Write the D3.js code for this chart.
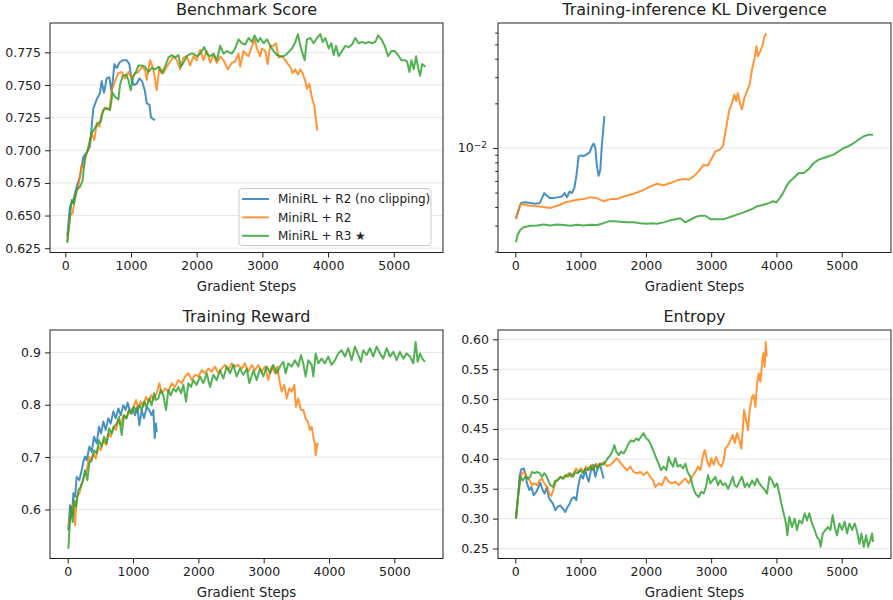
<!DOCTYPE html>
<html>
<head>
<meta charset="utf-8">
<script src="https://cdn.jsdelivr.net/npm/d3@7"></script>
<style>
  body { margin: 0; background: #fff; }
  text { font-family: "DejaVu Sans", sans-serif; fill: #222; }
</style>
</head>
<body>
<svg id="chart" width="893" height="600"></svg>
<script>
// ---- data ----
const seriesNames = ["MiniRL + R2 (no clipping)", "MiniRL + R2", "MiniRL + R3 \u2605"];
const seriesColors = ["#1f77b4", "#ff7f0e", "#2ca02c"];
const panelTitles = ["Benchmark Score", "Training-inference KL Divergence", "Training Reward", "Entropy"];
const xLabel = "Gradient Steps";
const stepTicks = [0, 1000, 2000, 3000, 4000, 5000];
const benchTicks = [0.625, 0.650, 0.675, 0.700, 0.725, 0.750, 0.775];
const klMajorTicks = [1e-2];
const klMinorTicks = [2e-3, 3e-3, 4e-3, 5e-3, 6e-3, 7e-3, 8e-3, 9e-3, 2e-2, 3e-2, 4e-2, 5e-2, 6e-2];
const rewardTicks = [0.6, 0.7, 0.8, 0.9];
const entropyTicks = [0.25, 0.30, 0.35, 0.40, 0.45, 0.50, 0.55, 0.60];

const benchNoClip = [[30,0.634],[71,0.657],[122,0.662],[173,0.672],[224,0.680],[274,0.695],[325,0.698],[376,0.703],[401,0.718],[427,0.732],[478,0.739],[528,0.744],[554,0.753],[589,0.744],[630,0.755],[671,0.756],[706,0.744],[747,0.766],[782,0.763],[823,0.767],[874,0.769],[935,0.769],[975,0.766],[1011,0.753],[1047,0.750],[1087,0.751],[1128,0.755],[1169,0.753],[1214,0.745],[1240,0.736],[1280,0.735],[1306,0.725],[1367,0.723]];
const benchR2 = [[30,0.630],[71,0.650],[112,0.652],[147,0.664],[198,0.672],[249,0.689],[274,0.687],[325,0.698],[366,0.703],[401,0.713],[442,0.708],[478,0.721],[518,0.718],[554,0.728],[605,0.733],[671,0.731],[706,0.746],[757,0.753],[808,0.759],[859,0.760],[910,0.755],[961,0.760],[1011,0.755],[1062,0.759],[1113,0.760],[1164,0.764],[1214,0.762],[1240,0.754],[1291,0.769],[1341,0.762],[1392,0.746],[1433,0.764],[1494,0.759],[1545,0.764],[1595,0.768],[1646,0.772],[1697,0.769],[1748,0.762],[1799,0.771],[1850,0.772],[1900,0.765],[1951,0.772],[2002,0.769],[2053,0.777],[2104,0.769],[2154,0.776],[2205,0.767],[2256,0.773],[2307,0.767],[2358,0.772],[2409,0.769],[2475,0.762],[2535,0.767],[2586,0.768],[2637,0.774],[2662,0.764],[2713,0.776],[2764,0.773],[2790,0.772],[2882,0.785],[2917,0.778],[2968,0.772],[2994,0.778],[3044,0.776],[3080,0.766],[3120,0.780],[3171,0.780],[3207,0.782],[3248,0.771],[3298,0.772],[3349,0.769],[3390,0.766],[3425,0.764],[3461,0.759],[3501,0.762],[3542,0.758],[3578,0.762],[3613,0.759],[3654,0.753],[3679,0.747],[3715,0.751],[3756,0.740],[3791,0.734],[3817,0.723],[3837,0.715]];
const benchR3 = [[30,0.629],[61,0.644],[97,0.662],[132,0.659],[173,0.670],[224,0.672],[264,0.677],[300,0.695],[340,0.700],[376,0.708],[401,0.713],[452,0.717],[503,0.721],[539,0.722],[579,0.731],[630,0.732],[681,0.731],[721,0.744],[757,0.741],[808,0.739],[833,0.750],[874,0.757],[925,0.758],[960,0.754],[996,0.746],[1037,0.757],[1077,0.760],[1113,0.765],[1164,0.765],[1214,0.764],[1265,0.760],[1316,0.763],[1367,0.762],[1418,0.764],[1469,0.759],[1519,0.764],[1570,0.771],[1621,0.773],[1672,0.771],[1722,0.773],[1758,0.764],[1799,0.767],[1850,0.772],[1900,0.774],[1951,0.774],[2002,0.772],[2053,0.774],[2114,0.779],[2154,0.774],[2205,0.772],[2256,0.774],[2307,0.769],[2358,0.780],[2409,0.774],[2459,0.776],[2535,0.774],[2586,0.778],[2637,0.785],[2688,0.782],[2739,0.781],[2790,0.786],[2841,0.783],[2882,0.788],[2932,0.783],[2968,0.786],[3019,0.782],[3070,0.785],[3120,0.780],[3171,0.776],[3222,0.773],[3273,0.772],[3324,0.772],[3375,0.774],[3451,0.778],[3502,0.783],[3542,0.789],[3578,0.780],[3613,0.774],[3644,0.769],[3679,0.785],[3730,0.786],[3781,0.782],[3832,0.786],[3883,0.789],[3918,0.783],[3959,0.786],[4010,0.778],[4050,0.782],[4086,0.773],[4121,0.780],[4162,0.772],[4213,0.776],[4263,0.780],[4314,0.779],[4365,0.781],[4416,0.786],[4466,0.782],[4517,0.783],[4568,0.782],[4619,0.783],[4669,0.782],[4720,0.783],[4761,0.788],[4812,0.785],[4863,0.780],[4914,0.772],[4964,0.776],[5015,0.776],[5066,0.773],[5117,0.769],[5168,0.769],[5203,0.768],[5239,0.760],[5270,0.769],[5305,0.762],[5341,0.772],[5371,0.763],[5402,0.757],[5432,0.766],[5483,0.764]];

const klNoClip = [[10,3.36e-3],[51,3.83e-3],[87,4.25e-3],[153,4.30e-3],[230,4.25e-3],[306,4.21e-3],[373,4.25e-3],[409,4.59e-3],[444,4.96e-3],[485,4.76e-3],[526,4.59e-3],[587,4.59e-3],[664,4.66e-3],[715,4.71e-3],[756,4.96e-3],[792,4.66e-3],[832,5.09e-3],[868,4.96e-3],[904,5.37e-3],[935,6.44e-3],[970,8.79e-3],[1006,8.92e-3],[1047,8.79e-3],[1098,9.10e-3],[1139,9.35e-3],[1175,1.03e-2],[1200,1.07e-2],[1226,1.0e-2],[1251,7.52e-3],[1277,6.50e-3],[1302,7.14e-3],[1328,1.08e-2],[1343,1.26e-2],[1364,1.64e-2]];
const klR2 = [[10,3.31e-3],[51,3.83e-3],[87,4.21e-3],[153,4.14e-3],[230,4.07e-3],[332,4.04e-3],[434,4.00e-3],[536,3.94e-3],[613,4.04e-3],[690,4.14e-3],[766,4.30e-3],[843,4.37e-3],[945,4.48e-3],[1047,4.52e-3],[1149,4.66e-3],[1251,4.59e-3],[1353,4.37e-3],[1456,4.52e-3],[1558,4.52e-3],[1660,4.71e-3],[1762,4.84e-3],[1864,5.01e-3],[1966,5.22e-3],[2068,5.51e-3],[2171,5.74e-3],[2273,5.60e-3],[2375,5.80e-3],[2477,6.05e-3],[2579,6.18e-3],[2656,6.12e-3],[2732,6.44e-3],[2809,6.95e-3],[2886,7.71e-3],[2947,7.60e-3],[3013,8.56e-3],[3064,9.49e-3],[3131,9.75e-3],[3182,1.03e-2],[3207,1.20e-2],[3243,1.47e-2],[3274,1.77e-2],[3320,2.01e-2],[3355,2.29e-2],[3386,2.07e-2],[3407,2.35e-2],[3447,1.96e-2],[3473,1.82e-2],[3509,2.18e-2],[3550,2.42e-2],[3590,2.68e-2],[3626,3.38e-2],[3662,3.95e-2],[3693,4.86e-2],[3713,4.16e-2],[3754,4.50e-2],[3790,4.99e-2],[3820,5.69e-2],[3846,5.93e-2]];
const klR3 = [[10,2.31e-3],[36,2.60e-3],[77,2.81e-3],[128,2.92e-3],[230,2.99e-3],[332,3.00e-3],[434,3.05e-3],[536,3.00e-3],[638,3.05e-3],[741,3.02e-3],[843,2.99e-3],[945,3.03e-3],[1047,3.00e-3],[1149,3.03e-3],[1251,3.02e-3],[1353,3.11e-3],[1430,3.20e-3],[1507,3.20e-3],[1609,3.18e-3],[1711,3.15e-3],[1813,3.15e-3],[1915,3.11e-3],[2017,3.08e-3],[2094,3.11e-3],[2171,3.08e-3],[2273,3.15e-3],[2375,3.25e-3],[2452,3.31e-3],[2528,3.36e-3],[2605,3.15e-3],[2681,3.28e-3],[2758,3.42e-3],[2834,3.49e-3],[2911,3.49e-3],[2988,3.31e-3],[3090,3.31e-3],[3192,3.31e-3],[3294,3.42e-3],[3396,3.55e-3],[3498,3.68e-3],[3601,3.83e-3],[3703,4.04e-3],[3805,4.14e-3],[3882,4.25e-3],[3948,4.37e-3],[3999,4.30e-3],[4050,4.59e-3],[4101,4.96e-3],[4152,5.51e-3],[4203,5.95e-3],[4265,6.27e-3],[4341,6.78e-3],[4418,6.78e-3],[4495,7.21e-3],[4571,7.92e-3],[4648,8.34e-3],[4724,8.56e-3],[4801,8.79e-3],[4877,9.02e-3],[4954,9.49e-3],[5031,1.0e-2],[5107,1.03e-2],[5184,1.08e-2],[5261,1.14e-2],[5337,1.20e-2],[5414,1.23e-2],[5480,1.23e-2]];

const rewardNoClip = [[10,0.560],[36,0.608],[61,0.586],[87,0.631],[112,0.624],[138,0.662],[179,0.656],[214,0.675],[240,0.691],[265,0.701],[291,0.694],[332,0.720],[367,0.710],[403,0.739],[444,0.726],[480,0.758],[510,0.745],[546,0.768],[582,0.752],[622,0.774],[658,0.764],[699,0.787],[735,0.774],[776,0.793],[811,0.780],[852,0.799],[888,0.790],[918,0.804],[954,0.787],[995,0.793],[1031,0.780],[1066,0.796],[1097,0.761],[1133,0.790],[1168,0.774],[1209,0.796],[1245,0.790],[1286,0.780],[1311,0.790],[1332,0.736],[1352,0.764],[1362,0.748]];
const rewardR2 = [[10,0.567],[36,0.586],[61,0.599],[87,0.611],[112,0.570],[138,0.624],[179,0.631],[214,0.650],[250,0.662],[291,0.675],[327,0.701],[357,0.691],[393,0.707],[429,0.697],[469,0.720],[505,0.713],[546,0.732],[587,0.723],[622,0.745],[658,0.739],[699,0.758],[740,0.752],[776,0.771],[811,0.761],[852,0.780],[893,0.774],[929,0.787],[964,0.783],[1005,0.796],[1046,0.809],[1082,0.793],[1117,0.806],[1158,0.796],[1199,0.815],[1235,0.806],[1276,0.818],[1311,0.809],[1362,0.822],[1403,0.841],[1439,0.822],[1490,0.831],[1541,0.825],[1592,0.841],[1643,0.834],[1694,0.847],[1745,0.841],[1796,0.854],[1847,0.860],[1898,0.847],[1949,0.857],[2000,0.854],[2051,0.866],[2102,0.860],[2153,0.869],[2204,0.863],[2255,0.873],[2306,0.860],[2357,0.869],[2408,0.876],[2459,0.866],[2510,0.879],[2561,0.873],[2612,0.876],[2663,0.869],[2714,0.879],[2765,0.863],[2816,0.876],[2867,0.866],[2918,0.876],[2969,0.863],[3020,0.873],[3071,0.847],[3122,0.873],[3173,0.860],[3209,0.873],[3240,0.847],[3275,0.825],[3316,0.838],[3352,0.812],[3392,0.831],[3428,0.825],[3469,0.838],[3494,0.796],[3530,0.812],[3571,0.790],[3606,0.790],[3642,0.774],[3673,0.768],[3709,0.752],[3734,0.758],[3760,0.739],[3785,0.723],[3796,0.704],[3821,0.726],[3836,0.723]];
const rewardR3 = [[10,0.525],[26,0.560],[51,0.605],[77,0.576],[97,0.618],[128,0.605],[163,0.637],[199,0.643],[230,0.653],[265,0.675],[301,0.656],[332,0.691],[367,0.694],[403,0.713],[444,0.707],[480,0.732],[520,0.720],[556,0.739],[597,0.726],[633,0.755],[673,0.745],[709,0.758],[750,0.764],[786,0.777],[827,0.742],[862,0.780],[903,0.774],[939,0.790],[980,0.783],[1015,0.796],[1056,0.787],[1097,0.799],[1133,0.790],[1168,0.806],[1209,0.796],[1250,0.812],[1286,0.799],[1321,0.822],[1352,0.809],[1388,0.812],[1423,0.828],[1464,0.818],[1505,0.790],[1541,0.828],[1577,0.818],[1617,0.831],[1658,0.825],[1694,0.834],[1735,0.822],[1770,0.838],[1811,0.806],[1847,0.841],[1888,0.834],[1923,0.847],[1974,0.838],[2026,0.854],[2077,0.841],[2128,0.860],[2179,0.834],[2230,0.857],[2281,0.847],[2332,0.866],[2383,0.850],[2434,0.873],[2485,0.860],[2536,0.876],[2587,0.854],[2638,0.869],[2689,0.857],[2740,0.869],[2781,0.841],[2842,0.866],[2893,0.847],[2944,0.869],[2995,0.854],[3046,0.873],[3097,0.860],[3148,0.876],[3199,0.860],[3250,0.873],[3301,0.882],[3336,0.860],[3377,0.879],[3428,0.873],[3479,0.885],[3530,0.873],[3571,0.895],[3606,0.879],[3642,0.854],[3683,0.885],[3734,0.876],[3760,0.854],[3796,0.898],[3836,0.879],[3887,0.888],[3938,0.879],[3989,0.892],[4040,0.876],[4091,0.885],[4142,0.898],[4193,0.904],[4244,0.892],[4295,0.908],[4346,0.885],[4397,0.911],[4448,0.895],[4489,0.882],[4525,0.904],[4576,0.895],[4627,0.908],[4678,0.892],[4729,0.911],[4780,0.898],[4831,0.888],[4882,0.908],[4933,0.892],[4984,0.901],[5035,0.885],[5086,0.901],[5137,0.888],[5188,0.898],[5239,0.892],[5290,0.879],[5326,0.920],[5357,0.882],[5392,0.898],[5428,0.888],[5469,0.882]];

const entropyNoClip = [[10,0.300],[41,0.336],[66,0.370],[87,0.382],[128,0.384],[153,0.376],[179,0.359],[214,0.348],[245,0.353],[281,0.339],[322,0.345],[357,0.353],[383,0.360],[419,0.348],[449,0.342],[485,0.353],[511,0.336],[536,0.331],[577,0.325],[613,0.314],[649,0.320],[689,0.322],[725,0.317],[766,0.311],[802,0.320],[832,0.325],[868,0.334],[904,0.336],[935,0.331],[955,0.348],[981,0.364],[1006,0.373],[1037,0.367],[1072,0.381],[1098,0.370],[1124,0.362],[1159,0.381],[1190,0.390],[1226,0.370],[1261,0.384],[1292,0.392],[1328,0.378],[1353,0.367]];
const entropyR2 = [[10,0.300],[41,0.336],[77,0.364],[102,0.376],[138,0.378],[179,0.370],[220,0.364],[255,0.356],[291,0.359],[332,0.356],[373,0.364],[409,0.367],[444,0.359],[485,0.353],[521,0.342],[552,0.338],[587,0.350],[623,0.362],[664,0.367],[700,0.370],[741,0.367],[781,0.371],[817,0.376],[853,0.370],[894,0.376],[930,0.384],[970,0.378],[1006,0.384],[1047,0.378],[1088,0.387],[1124,0.381],[1159,0.390],[1200,0.384],[1241,0.392],[1277,0.387],[1312,0.390],[1353,0.395],[1404,0.388],[1456,0.390],[1507,0.395],[1547,0.401],[1583,0.398],[1619,0.392],[1660,0.387],[1711,0.381],[1762,0.387],[1813,0.378],[1864,0.376],[1915,0.378],[1966,0.373],[2017,0.378],[2068,0.370],[2109,0.364],[2145,0.353],[2196,0.359],[2247,0.356],[2298,0.370],[2349,0.362],[2400,0.359],[2451,0.362],[2503,0.356],[2554,0.362],[2605,0.367],[2656,0.359],[2707,0.370],[2758,0.378],[2799,0.387],[2835,0.381],[2871,0.403],[2902,0.415],[2937,0.398],[2973,0.387],[3004,0.401],[3040,0.390],[3075,0.403],[3116,0.392],[3157,0.387],[3193,0.398],[3218,0.417],[3259,0.423],[3295,0.431],[3331,0.440],[3361,0.426],[3397,0.443],[3433,0.431],[3463,0.417],[3484,0.448],[3504,0.482],[3535,0.465],[3565,0.448],[3591,0.482],[3627,0.504],[3652,0.507],[3678,0.487],[3703,0.526],[3729,0.543],[3754,0.529],[3780,0.560],[3800,0.577],[3821,0.554],[3836,0.596],[3851,0.571]];
const entropyR3 = [[10,0.300],[41,0.336],[77,0.370],[112,0.364],[153,0.370],[189,0.367],[230,0.370],[255,0.378],[296,0.376],[332,0.378],[373,0.376],[409,0.370],[444,0.376],[485,0.370],[511,0.362],[536,0.356],[577,0.353],[613,0.364],[649,0.364],[689,0.370],[725,0.367],[766,0.373],[802,0.370],[843,0.376],[884,0.370],[919,0.378],[955,0.376],[996,0.381],[1037,0.376],[1072,0.384],[1108,0.381],[1149,0.387],[1190,0.381],[1226,0.390],[1261,0.384],[1302,0.392],[1343,0.390],[1379,0.395],[1415,0.401],[1456,0.406],[1496,0.415],[1517,0.423],[1547,0.412],[1583,0.406],[1619,0.412],[1660,0.409],[1701,0.417],[1736,0.426],[1772,0.431],[1813,0.429],[1854,0.434],[1890,0.431],[1925,0.437],[1966,0.443],[2007,0.434],[2043,0.431],[2079,0.423],[2120,0.412],[2160,0.401],[2196,0.392],[2232,0.381],[2273,0.387],[2314,0.381],[2349,0.403],[2375,0.395],[2416,0.387],[2451,0.401],[2487,0.387],[2528,0.390],[2569,0.384],[2605,0.392],[2640,0.378],[2681,0.370],[2722,0.353],[2758,0.342],[2809,0.336],[2850,0.345],[2886,0.342],[2921,0.353],[2952,0.373],[2988,0.359],[3024,0.364],[3064,0.370],[3105,0.356],[3140,0.364],[3176,0.356],[3218,0.359],[3259,0.350],[3295,0.359],[3331,0.370],[3361,0.356],[3397,0.353],[3433,0.362],[3474,0.370],[3514,0.353],[3550,0.359],[3585,0.353],[3627,0.364],[3667,0.356],[3703,0.367],[3739,0.359],[3780,0.353],[3821,0.348],[3856,0.342],[3892,0.370],[3933,0.364],[3973,0.353],[4009,0.359],[4045,0.342],[4076,0.325],[4111,0.309],[4147,0.292],[4167,0.272],[4198,0.303],[4239,0.286],[4280,0.300],[4315,0.281],[4351,0.297],[4392,0.292],[4433,0.309],[4468,0.297],[4504,0.309],[4545,0.292],[4586,0.281],[4622,0.269],[4658,0.264],[4678,0.253],[4709,0.275],[4750,0.281],[4791,0.286],[4826,0.281],[4862,0.306],[4893,0.286],[4929,0.272],[4964,0.292],[5005,0.281],[5046,0.295],[5082,0.275],[5118,0.292],[5159,0.281],[5200,0.292],[5236,0.278],[5271,0.258],[5302,0.275],[5338,0.253],[5374,0.272],[5404,0.253],[5440,0.264],[5465,0.275],[5481,0.261]];

// ---- layout ----
const svg = d3.select("#chart");
const panels = [
  { title: panelTitles[0], box: [50, 23, 443, 252.5], xDom: [-233, 5750], yDom: [0.6217, 0.7975], log: false, ticks: benchTicks, fmt: d3.format(".3f"), data: [benchNoClip, benchR2, benchR3], legend: true },
  { title: panelTitles[1], box: [498, 23, 891, 252.5], xDom: [-265, 5755], yDom: [Math.pow(10, -2.705), Math.pow(10, -1.157)], log: true, data: [klNoClip, klR2, klR3] },
  { title: panelTitles[2], box: [50, 330, 443, 558.5], xDom: [-271, 5745], yDom: [0.5064, 0.9427], log: false, ticks: rewardTicks, fmt: d3.format(".1f"), data: [rewardNoClip, rewardR2, rewardR3] },
  { title: panelTitles[3], box: [498, 330, 891, 558.5], xDom: [-265, 5755], yDom: [0.2333, 0.6156], log: false, ticks: entropyTicks, fmt: d3.format(".2f"), data: [entropyNoClip, entropyR2, entropyR3] }
];

panels.forEach((p, pi) => {
  const [x0, y0, x1, y1] = p.box;
  const x = d3.scaleLinear().domain(p.xDom).range([x0, x1]);
  const y = (p.log ? d3.scaleLog() : d3.scaleLinear()).domain(p.yDom).range([y1, y0]);
  const g = svg.append("g");

  // grid lines
  const gridVals = p.log ? klMajorTicks : p.ticks;
  g.selectAll(".grid").data(gridVals).enter().append("line")
    .attr("x1", x0).attr("x2", x1)
    .attr("y1", d => y(d)).attr("y2", d => y(d))
    .attr("stroke", "#e6e6e6").attr("stroke-width", 1);

  // lines
  const clipId = "clip" + pi;
  svg.append("clipPath").attr("id", clipId).append("rect")
    .attr("x", x0).attr("y", y0).attr("width", x1 - x0).attr("height", y1 - y0);
  const line = d3.line().x(d => x(d[0])).y(d => y(d[1]));
  p.data.forEach((ser, si) => {
    g.append("path").datum(ser)
      .attr("clip-path", `url(#${clipId})`)
      .attr("fill", "none")
      .attr("stroke", seriesColors[si])
      .attr("stroke-opacity", 0.82)
      .attr("stroke-width", 2)
      .attr("stroke-linejoin", "round")
      .attr("d", line);
  });

  // x axis
  const xa = g.append("g").attr("transform", `translate(0,${y1})`)
    .call(d3.axisBottom(x).tickValues(stepTicks).tickFormat(d3.format("d")).tickSize(5).tickSizeOuter(0).tickPadding(4));
  xa.select(".domain").remove();
  xa.selectAll("line").attr("stroke", "#222");
  xa.selectAll("text").style("font-size", "12.5px").attr("fill", "#222");

  // y axis
  if (p.log) {
    const ya = g.append("g").attr("transform", `translate(${x0},0)`)
      .call(d3.axisLeft(y).tickValues(klMinorTicks).tickFormat("").tickSize(2.8).tickSizeOuter(0));
    ya.select(".domain").remove();
    ya.selectAll("line").attr("stroke", "#222");
    const ym = g.append("g").attr("transform", `translate(${x0},0)`)
      .call(d3.axisLeft(y).tickValues(klMajorTicks).tickFormat("").tickSize(5).tickSizeOuter(0));
    ym.select(".domain").remove();
    ym.selectAll("line").attr("stroke", "#222");
    klMajorTicks.forEach(v => {
      const t = g.append("text").attr("x", x0 - 11).attr("y", y(v)).attr("dy", "0.36em")
        .attr("text-anchor", "end").style("font-size", "12.5px");
      t.append("tspan").text("10");
      t.append("tspan").text("\u22122").style("font-size", "9px").attr("dy", "-0.55em");
    });
  } else {
    const ya = g.append("g").attr("transform", `translate(${x0},0)`)
      .call(d3.axisLeft(y).tickValues(p.ticks).tickFormat(p.fmt).tickSize(5).tickSizeOuter(0).tickPadding(4));
    ya.select(".domain").remove();
    ya.selectAll("line").attr("stroke", "#222");
    ya.selectAll("text").style("font-size", "12.5px").attr("fill", "#222");
  }

  // frame
  g.append("rect").attr("x", x0).attr("y", y0).attr("width", x1 - x0).attr("height", y1 - y0)
    .attr("fill", "none").attr("stroke", "#222").attr("stroke-width", 1);

  // title and x label
  g.append("text").attr("x", (x0 + x1) / 2).attr("y", y0 - 8)
    .attr("text-anchor", "middle").style("font-size", "16px").text(p.title);
  g.append("text").attr("x", (x0 + x1) / 2).attr("y", y1 + 38)
    .attr("text-anchor", "middle").style("font-size", "13.3px").text(xLabel);

  // legend
  if (p.legend) {
    const lg = g.append("g").attr("transform", "translate(239,188.5)");
    lg.append("rect").attr("width", 192).attr("height", 57).attr("rx", 3)
      .attr("fill", "#fff").attr("fill-opacity", 0.85).attr("stroke", "#cccccc");
    seriesNames.forEach((name, i) => {
      const yy = 10.5 + i * 18.4;
      lg.append("line").attr("x1", 3).attr("x2", 30).attr("y1", yy).attr("y2", yy)
        .attr("stroke", seriesColors[i]).attr("stroke-opacity", 0.82).attr("stroke-width", 2);
      lg.append("text").attr("x", 39).attr("y", yy).attr("dy", "0.35em")
        .style("font-size", "12px").text(name);
    });
  }
});
</script>
</body>
</html>
